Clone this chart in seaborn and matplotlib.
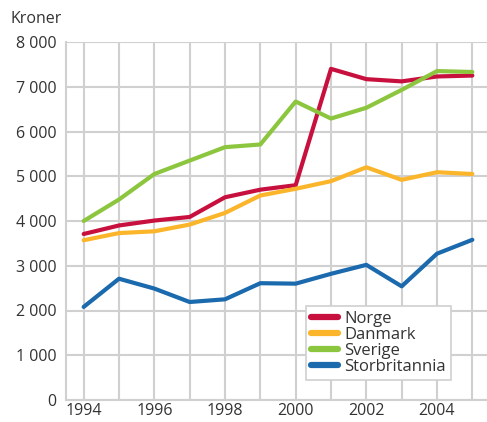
import pandas as pd
import numpy as np
import matplotlib
matplotlib.use('Agg')
import matplotlib.pyplot as plt
import seaborn as sns

years = list(range(1994, 2006))
norge = [3710, 3900, 4010, 4090, 4530, 4700, 4800, 7400, 7170, 7120, 7230, 7250]
danmark = [3570, 3730, 3770, 3920, 4180, 4570, 4720, 4890, 5200, 4920, 5090, 5050]
sverige = [4000, 4480, 5050, 5350, 5650, 5710, 6670, 6290, 6530, 6930, 7350, 7330]
storbritannia = [2080, 2710, 2490, 2190, 2250, 2610, 2600, 2820, 3020, 2540, 3270, 3580]

countries = ['Norge', 'Danmark', 'Sverige', 'Storbritannia']
colors = ['#c8103e', '#fbb52b', '#8cc63f', '#1a6aad']

df = pd.DataFrame({
    'Year': years * 4,
    'Value': norge + danmark + sverige + storbritannia,
    'Country': [c for c in countries for _ in years],
})

sns.set_theme(style='white')
plt.rcParams['font.family'] = ['Open Sans', 'DejaVu Sans']
text_color = '#333333'
grid_color = '#d0d0d0'

fig = plt.figure(figsize=(4.87, 4.22), dpi=100)
ax = fig.add_axes([66 / 487, 22 / 422, 424 / 487, 358 / 422])

sns.lineplot(data=df, x='Year', y='Value', hue='Country', palette=colors,
             hue_order=countries, linewidth=3, ax=ax, legend=False)

ax.set_xlim(1993.5, 2005.5)
ax.set_ylim(0, 8000)
ax.set_xticks(years)
ax.set_xticklabels([str(y) if y % 2 == 0 else '' for y in years])
yt = list(range(0, 8001, 1000))
ax.set_yticks(yt)
ax.set_yticklabels([f'{v:,}'.replace(',', ' ') for v in yt])
ax.tick_params(length=0, labelsize=11.5, colors=text_color)
ax.tick_params(axis='x', pad=2)
ax.tick_params(axis='y', pad=7)
ax.set_xlabel('')
ax.set_ylabel('')
ax.grid(True, color=grid_color, linewidth=1.5)
ax.set_axisbelow(True)
for s in ['top', 'right']:
    ax.spines[s].set_visible(False)
for s in ['left', 'bottom']:
    ax.spines[s].set_color(grid_color)
    ax.spines[s].set_linewidth(1.5)

fig.text(11 / 487, 1 - 19 / 422, 'Kroner', fontsize=11.5, color=text_color, va='center')

handles = [plt.Line2D([0], [0], color=c, linewidth=4.5, solid_capstyle='round') for c in colors]
leg = ax.legend(handles, countries, loc='upper left', bbox_to_anchor=(0.566, 0.263),
                borderaxespad=0, fontsize=12, frameon=True, fancybox=False,
                handlelength=1.6, labelspacing=0.0, handletextpad=0.4,
                borderpad=0.3, framealpha=1)
leg.get_frame().set_edgecolor(grid_color)
leg.get_frame().set_linewidth(1.2)
for t in leg.get_texts():
    t.set_color(text_color)

fig.savefig('out.png', dpi=100)
